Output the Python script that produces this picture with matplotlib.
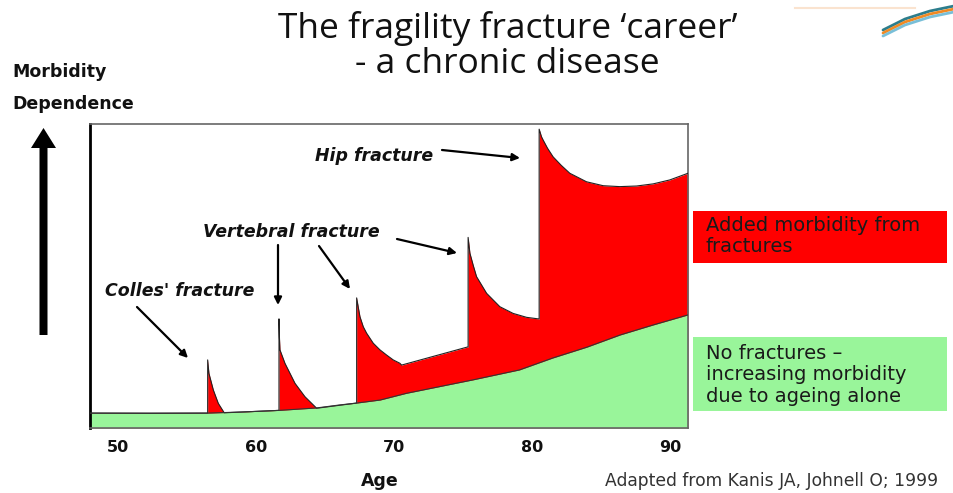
import matplotlib
matplotlib.use("Agg")
import matplotlib.pyplot as plt
from matplotlib.patches import FancyArrow, Rectangle

# ---------------- data ----------------
# baseline morbidity from ageing alone (green area top)
base_ages = [47.97, 52.3, 56.5, 59.2, 61.7, 64.4, 66.1, 67.3, 69.0, 70.9,
             73.3, 75.7, 79.1, 81.5, 84.0, 86.4, 88.8, 91.32]
base_vals = [4.9, 4.8, 4.9, 5.3, 5.8, 6.6, 7.6, 8.2, 9.2, 11.4,
             13.6, 15.8, 19.1, 23.0, 26.6, 30.6, 33.9, 37.2]

# total morbidity incl. fractures (red area top)
top_ages = [47.97, 56.5,
            56.5, 56.59, 56.91, 57.27, 57.70,
            61.67,
            61.67, 61.70, 61.74, 62.10, 62.83, 63.55, 64.40,
            67.30,
            67.30, 67.41, 67.54, 67.78, 68.02, 68.50, 68.99, 69.47, 69.95, 70.43, 70.56,
            75.38,
            75.38, 75.51, 75.75, 75.99, 76.72, 77.68, 78.64, 79.62, 80.46, 80.53,
            80.53, 80.70, 80.82, 81.14, 81.54, 82.13, 82.75, 83.96, 85.17, 86.38,
            87.59, 88.79, 90.00, 91.32]
top_vals = [4.9, 4.9,
            22.4, 18.0, 12.5, 8.1, 5.0,
            5.8,
            35.9, 30.0, 25.7, 21.3, 14.7, 10.3, 6.5,
            8.2,
            42.8, 39.9, 36.6, 33.3, 31.2, 27.9, 25.7, 24.0, 22.4, 21.3, 20.7,
            26.7,
            62.7, 57.5, 53.5, 49.8, 44.3, 39.9, 37.7, 36.4, 35.9, 35.9,
            98.3, 95.8, 94.7, 92.0, 89.2, 86.4, 83.8, 81.0, 79.7, 79.4,
            79.6, 80.3, 81.6, 83.8]

xtick_vals = [50, 60, 70, 80, 90]
xtick_labels = ["50", "60", "70", "80", "90"]

title_lines = ["The fragility fracture \u2018career\u2019", "- a chronic disease"]
fracture_labels = ["Colles' fracture", "Vertebral fracture", "Hip fracture"]
legend_red = "Added morbidity from\nfractures"
legend_green = "No fractures \u2013\nincreasing morbidity\ndue to ageing alone"
source_text = "Adapted from Kanis JA, Johnell O; 1999"

RED = "#FF0000"
GREEN = "#99F59A"

# ---------------- figure ----------------
W, H = 954, 493
fig = plt.figure(figsize=(W / 100, H / 100), dpi=100)
fig.patch.set_facecolor("white")

L, R, T, B = 90, 688, 124, 428
ax = fig.add_axes([L / W, 1 - B / H, (R - L) / W, (B - T) / H])
ax.fill_between(top_ages, 0, top_vals, color=RED, lw=0, zorder=1)
ax.plot(top_ages, top_vals, color="#222222", lw=0.8, zorder=3)
ax.fill_between(base_ages, 0, base_vals, color=GREEN, lw=0, zorder=2)
ax.plot(base_ages, base_vals, color="#333333", lw=0.8, zorder=3)
ax.set_xlim(47.97, 91.32)
ax.set_ylim(0, 100)
ax.set_yticks([])
ax.set_xticks(xtick_vals)
ax.set_xticklabels(xtick_labels, fontsize=11.5, fontweight="bold",
                   family="DejaVu Sans", color="#111111")
ax.tick_params(axis="x", length=0, pad=9)
for s in ["top", "right", "bottom"]:
    ax.spines[s].set_color("#666666")
    ax.spines[s].set_linewidth(1.2)
ax.spines["left"].set_color("black")
ax.spines["left"].set_linewidth(2.0)

# ---------------- overlay in pixel coordinates ----------------
ov = fig.add_axes([0, 0, 1, 1], zorder=5)
ov.set_xlim(0, W)
ov.set_ylim(H, 0)
ov.axis("off")
ov.patch.set_alpha(0)

# title
ov.text(508, 28, title_lines[0], ha="center", va="center", fontsize=25.5,
        family="Open Sans", color="#111111")
ov.text(507, 64, title_lines[1], ha="center", va="center", fontsize=25.5,
        family="Open Sans", color="#111111")

# y-axis labels and big arrow
ov.text(12, 72, "Morbidity", ha="left", va="center", fontsize=12.5,
        fontweight="bold", family="DejaVu Sans", color="#111111")
ov.text(12, 104, "Dependence", ha="left", va="center", fontsize=12.5,
        fontweight="bold", family="DejaVu Sans", color="#111111")
ov.add_patch(FancyArrow(43.5, 335, 0, -207, width=8, head_width=25,
                        head_length=20, length_includes_head=True,
                        color="black", lw=0))

# fracture labels
fkw = dict(ha="left", va="center", fontsize=12.5, fontweight="bold",
           style="italic", family="DejaVu Sans", color="#111111")
ov.text(105, 291, fracture_labels[0], **fkw)
ov.text(203, 232, fracture_labels[1], **fkw)
ov.text(315, 156, fracture_labels[2], **fkw)

akw = dict(arrowstyle="-|>", lw=1.6, color="black", mutation_scale=11,
           shrinkA=0, shrinkB=0)
for (x0, y0, x1, y1) in [(137, 307, 188, 358), (278, 245, 278, 305),
                         (319, 246, 350, 289), (397, 239, 457, 253),
                         (442, 150, 520, 158)]:
    ov.annotate("", xy=(x1, y1), xytext=(x0, y0), arrowprops=akw)

# legend boxes
ov.add_patch(Rectangle((693, 211), 254, 52, color=RED, lw=0))
ov.text(706, 236, legend_red, ha="left", va="center", fontsize=14,
        family="DejaVu Sans", color="#1a1a1a", linespacing=1.15)
ov.add_patch(Rectangle((693, 337), 254, 74, color=GREEN, lw=0))
ov.text(706, 375, legend_green, ha="left", va="center", fontsize=14,
        family="DejaVu Sans", color="#1a1a1a", linespacing=1.15)

# x label and source
ov.text(380, 481, "Age", ha="center", va="center", fontsize=12.5,
        fontweight="bold", family="DejaVu Sans", color="#111111")
ov.text(938, 481, source_text, ha="right", va="center", fontsize=12.3,
        family="DejaVu Sans", color="#333333")

# small logo swoosh top-right
ov.plot([795, 915], [8, 8], color="#f6c9a0", lw=1.5, alpha=0.5)
for dy, c in [(-3, "#2c7d8c"), (0, "#f08a24"), (3, "#79bfd8")]:
    ov.plot([883, 905, 930, 954], [33 + dy, 22 + dy, 14 + dy, 9 + dy],
            color=c, lw=2.0, solid_capstyle="round")

fig.savefig("out.png", dpi=100, facecolor="white")
